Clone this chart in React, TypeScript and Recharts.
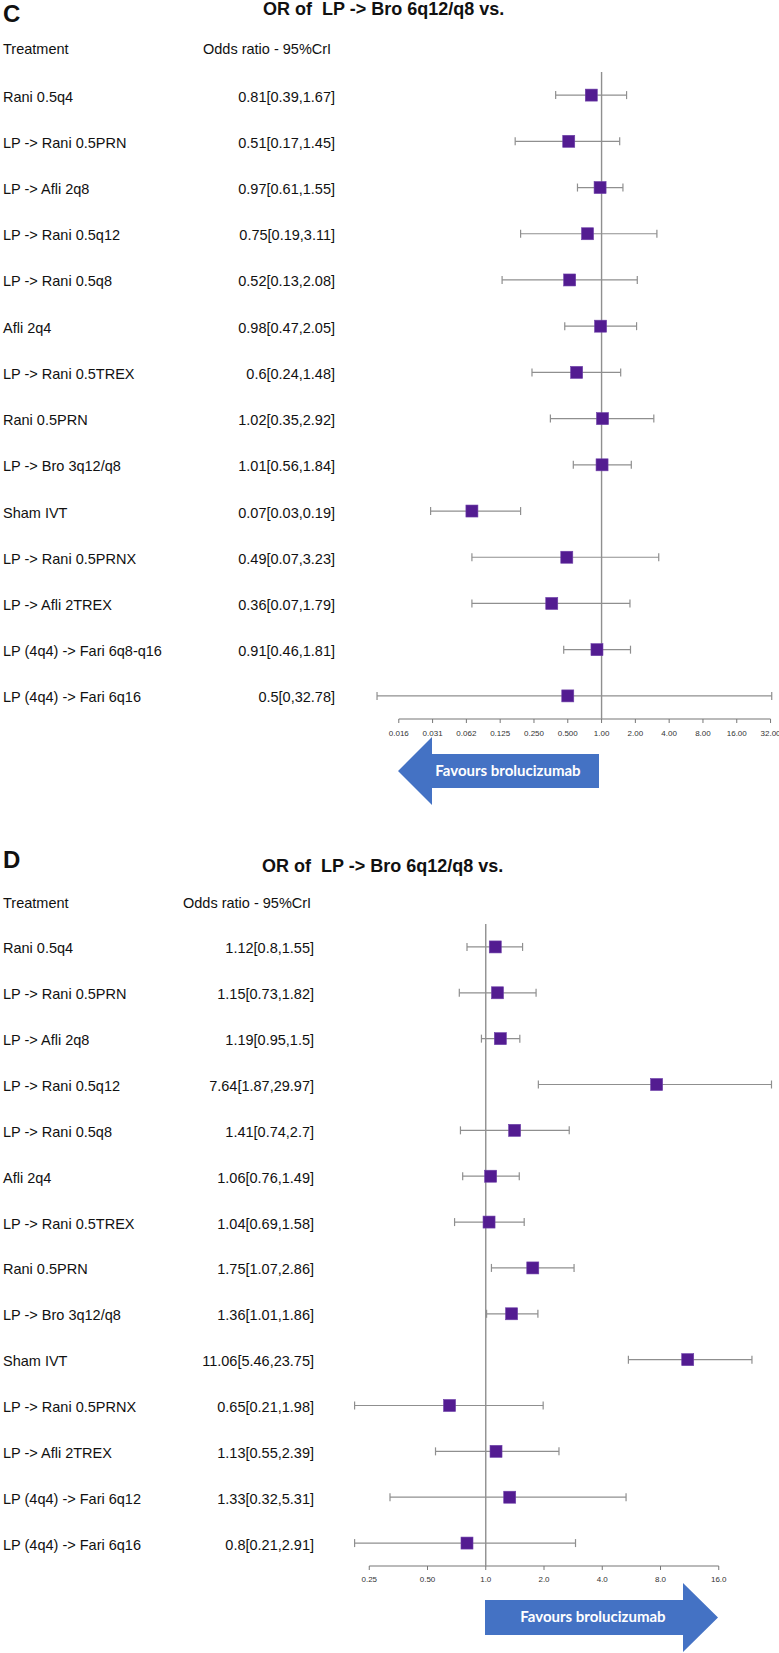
import React from "react";
import {
  ScatterChart,
  Scatter,
  XAxis,
  YAxis,
  ErrorBar,
  ReferenceLine,
} from "recharts";

// panel C
const C_NAMES = [
  "Rani 0.5q4",
  "LP -> Rani 0.5PRN",
  "LP -> Afli 2q8",
  "LP -> Rani 0.5q12",
  "LP -> Rani 0.5q8",
  "Afli 2q4",
  "LP -> Rani 0.5TREX",
  "Rani 0.5PRN",
  "LP -> Bro 3q12/q8",
  "Sham IVT",
  "LP -> Rani 0.5PRNX",
  "LP -> Afli 2TREX",
  "LP (4q4) -> Fari 6q8-q16",
  "LP (4q4) -> Fari 6q16",
];
const C_OR = [0.81, 0.51, 0.97, 0.75, 0.52, 0.98, 0.6, 1.02, 1.01, 0.07, 0.49, 0.36, 0.91, 0.5];
const C_LO = [0.39, 0.17, 0.61, 0.19, 0.13, 0.47, 0.24, 0.35, 0.56, 0.03, 0.07, 0.07, 0.46, 0];
const C_HI = [1.67, 1.45, 1.55, 3.11, 2.08, 2.05, 1.48, 2.92, 1.84, 0.19, 3.23, 1.79, 1.81, 32.78];
const C_TICKS = [0.015625, 0.03125, 0.0625, 0.125, 0.25, 0.5, 1, 2, 4, 8, 16, 32];
const C_TICK_LABELS = ["0.016", "0.031", "0.062", "0.125", "0.250", "0.500", "1.00", "2.00", "4.00", "8.00", "16.00", "32.00"];

// panel D
const D_NAMES = [
  "Rani 0.5q4",
  "LP -> Rani 0.5PRN",
  "LP -> Afli 2q8",
  "LP -> Rani 0.5q12",
  "LP -> Rani 0.5q8",
  "Afli 2q4",
  "LP -> Rani 0.5TREX",
  "Rani 0.5PRN",
  "LP -> Bro 3q12/q8",
  "Sham IVT",
  "LP -> Rani 0.5PRNX",
  "LP -> Afli 2TREX",
  "LP (4q4) -> Fari 6q12",
  "LP (4q4) -> Fari 6q16",
];
const D_OR = [1.12, 1.15, 1.19, 7.64, 1.41, 1.06, 1.04, 1.75, 1.36, 11.06, 0.65, 1.13, 1.33, 0.8];
const D_LO = [0.8, 0.73, 0.95, 1.87, 0.74, 0.76, 0.69, 1.07, 1.01, 5.46, 0.21, 0.55, 0.32, 0.21];
const D_HI = [1.55, 1.82, 1.5, 29.97, 2.7, 1.49, 1.58, 2.86, 1.86, 23.75, 1.98, 2.39, 5.31, 2.91];
const D_TICKS = [0.25, 0.5, 1, 2, 4, 8, 16];
const D_TICK_LABELS = ["0.25", "0.50", "1.0", "2.0", "4.0", "8.0", "16.0"];

// a zero lower bound can't sit on a log axis, drawn where the picture puts it
const LOG_FLOOR = 0.01;

const FONT = "'Liberation Sans', Arial, sans-serif";
const PURPLE = "#531c91";
const GREY = "#8f8f8f";
const BLUE = "#4472C4";

function buildRows(or: number[], lo: number[], hi: number[]) {
  return or.map((v, i) => {
    const low = Math.max(lo[i], LOG_FLOOR);
    return { row: i, or: v, err: [v - low, hi[i] - v] };
  });
}

const Square = (props: any) => {
  const { cx, cy } = props;
  if (cx == null || cy == null) return null;
  return <rect x={cx - 6} y={cy - 6} width={12} height={12} fill={PURPLE} stroke="#6d3fa8" strokeWidth={0.6} />;
};

type PanelProps = {
  names: string[];
  or: number[];
  lo: number[];
  hi: number[];
  ticks: number[];
  tickLabels: string[];
  domain: [number, number];
  width: number;
  height: number;
  top: number;
  yAxisWidth: number;
  valueRight: number;
  tickMargin: number;
};

function ForestPanel(p: PanelProps) {
  const rows = buildRows(p.or, p.lo, p.hi);
  const n = p.names.length;
  const rowTicks = p.names.map((_, i) => i);

  const renderRowTick = (t: any) => {
    const i = t.payload.value;
    return (
      <g>
        <text x={3} y={t.y} dy={6.5} fontSize={14.5} fill="#111" fontFamily={FONT}>
          {p.names[i]}
        </text>
        <text x={p.valueRight} y={t.y} dy={6.5} fontSize={14.5} fill="#111" textAnchor="end" fontFamily={FONT}>
          {`${p.or[i]}[${p.lo[i]},${p.hi[i]}]`}
        </text>
      </g>
    );
  };

  return (
    <ScatterChart
      width={p.width}
      height={p.height}
      margin={{ top: p.top, right: 0, bottom: 0, left: 0 }}
    >
      <XAxis
        type="number"
        dataKey="or"
        scale="log"
        domain={p.domain}
        allowDataOverflow
        ticks={p.ticks}
        interval={0}
        tickFormatter={(v) => p.tickLabels[p.ticks.indexOf(Number(v))] ?? String(v)}
        axisLine={false}
        tickSize={4}
        tickMargin={p.tickMargin}
        stroke="#777"
        tick={{ fontSize: 8, fill: "#333", fontFamily: FONT }}
        height={30}
      />
      <YAxis
        type="number"
        dataKey="row"
        domain={[-0.5, n - 0.5]}
        reversed
        allowDataOverflow
        ticks={rowTicks}
        interval={0}
        width={p.yAxisWidth}
        axisLine={false}
        tickLine={false}
        tick={renderRowTick}
      />
      <ReferenceLine
        segment={[
          { x: p.ticks[0], y: n - 0.5 },
          { x: p.ticks[p.ticks.length - 1], y: n - 0.5 },
        ]}
        stroke="#777"
        strokeWidth={1.2}
      />
      <ReferenceLine x={1} stroke={GREY} strokeWidth={1.4} />
      <Scatter data={rows} shape={Square} isAnimationActive={false}>
        <ErrorBar dataKey="err" direction="x" width={4} stroke={GREY} strokeWidth={1.2} />
      </Scatter>
    </ScatterChart>
  );
}

const textProps = { fontFamily: FONT, fill: "#111" };
const arrowText = { fontSize: 15, fontWeight: 700, fill: "#fff", fontFamily: "Lato, 'Open Sans', sans-serif" };

export default function App() {
  return (
    <div
      style={{
        position: "absolute",
        left: 0,
        top: 0,
        width: 779,
        height: 1653,
        overflow: "hidden",
        background: "#fff",
        fontFamily: FONT,
      }}
    >
      <div style={{ position: "absolute", left: 0, top: 0 }}>
        <ForestPanel
          names={C_NAMES}
          or={C_OR}
          lo={C_LO}
          hi={C_HI}
          ticks={C_TICKS}
          tickLabels={C_TICK_LABELS}
          domain={[2 ** -7, 2 ** 5.25]}
          width={779}
          height={749}
          top={72}
          yAxisWidth={365}
          valueRight={335}
          tickMargin={7}
        />
      </div>
      <div style={{ position: "absolute", left: 0, top: 840 }}>
        <ForestPanel
          names={D_NAMES}
          or={D_OR}
          lo={D_LO}
          hi={D_HI}
          ticks={D_TICKS}
          tickLabels={D_TICK_LABELS}
          domain={[2 ** -3, 2 ** 5]}
          width={777}
          height={756}
          top={84}
          yAxisWidth={311}
          valueRight={314}
          tickMargin={6}
        />
      </div>
      <svg
        width={779}
        height={1653}
        style={{ position: "absolute", left: 0, top: 0, pointerEvents: "none" }}
      >
        {/* panel C headings */}
        <text x={3} y={22} fontSize={24} fontWeight={700} {...textProps}>C</text>
        <text x={263} y={15} fontSize={18} fontWeight={700} style={{ whiteSpace: "pre" }} {...textProps}>
          OR of  LP -&gt; Bro 6q12/q8 vs.
        </text>
        <text x={3} y={54} fontSize={14.5} {...textProps}>Treatment</text>
        <text x={203} y={54} fontSize={14.5} {...textProps}>Odds ratio - 95%CrI</text>
        <polygon points="398,771 432,737 432,754 599,754 599,788 432,788 432,805" fill={BLUE} />
        <text x={508} y={776} textAnchor="middle" {...arrowText}>
          Favours brolucizumab
        </text>

        {/* panel D headings */}
        <text x={3} y={868} fontSize={24} fontWeight={700} {...textProps}>D</text>
        <text x={262} y={872} fontSize={18} fontWeight={700} style={{ whiteSpace: "pre" }} {...textProps}>
          OR of  LP -&gt; Bro 6q12/q8 vs.
        </text>
        <text x={3} y={908} fontSize={14.5} {...textProps}>Treatment</text>
        <text x={183} y={908} fontSize={14.5} {...textProps}>Odds ratio - 95%CrI</text>
        <polygon points="485,1600 683,1600 683,1583 718,1617.5 683,1652 683,1635 485,1635" fill={BLUE} />
        <text x={593} y={1622} textAnchor="middle" {...arrowText}>
          Favours brolucizumab
        </text>
      </svg>
    </div>
  );
}
